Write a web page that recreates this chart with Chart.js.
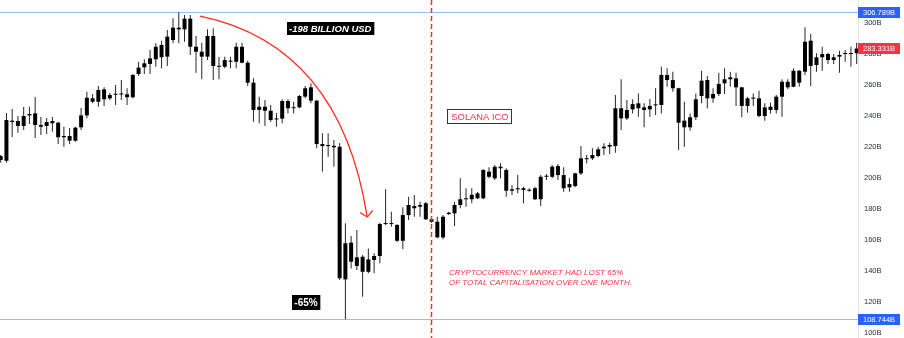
<!DOCTYPE html>
<html>
<head>
<meta charset="utf-8">
<script src="https://cdn.jsdelivr.net/npm/chart.js@4.4.1/dist/chart.umd.min.js"></script>
<style>
  html, body { margin: 0; padding: 0; background: #fff; }
  #wrap { width: 904px; height: 338px; }
</style>
</head>
<body>
<div id="wrap"><canvas id="capChart" width="904" height="338"></canvas></div>
<script>
// Total crypto market cap, daily candles, billions USD
const opens = [
  214.0, 210.9, 236.8, 236.6, 233.4, 240.2, 241.5, 234.0, 233.4, 235.1,
  235.5, 226.9, 226.9, 223.9, 232.5, 240.2, 251.2, 249.0, 257.0, 251.2,
  253.5, 254.0, 253.8, 251.9, 266.9, 271.2, 273.4, 276.4, 285.6, 278.1,
  288.8, 295.7, 295.7, 302.6, 284.5, 281.3, 278.1, 291.4, 272.1, 271.6,
  275.5, 274.8, 284.5, 274.2, 261.3, 243.7, 245.8, 243.2, 237.6, 238.1,
  249.5, 244.8, 245.4, 252.3, 258.3, 249.7, 221.7, 221.1, 220.6, 220.0,
  134.4, 158.1, 148.6, 149.0, 139.3, 146.9, 149.5, 170.1, 170.6, 169.5,
  159.3, 175.9, 181.7, 181.3, 183.5, 173.2, 171.6, 161.5, 176.6, 177.0,
  182.4, 186.1, 186.1, 186.7, 186.7, 203.9, 199.6, 207.1, 205.0, 191.6,
  192.5, 193.2, 192.1, 193.2, 186.1, 200.6, 200.6, 207.5, 201.7, 193.8,
  194.6, 202.8, 211.9, 212.5, 214.0, 219.0, 220.0, 220.4, 244.8, 238.3,
  244.1, 248.0, 245.4, 244.1, 246.7, 246.9, 266.3, 263.0, 257.7, 236.8,
  232.5, 239.0, 252.7, 263.0, 251.2, 254.0, 260.9, 263.5, 264.1, 258.3,
  246.3, 251.0, 251.2, 239.8, 243.7, 243.7, 252.3, 261.9, 258.7, 269.0,
  268.4, 288.4, 272.7, 277.7, 279.8, 275.9, 278.1, 279.8, 279.8, 280.3
];
const highs = [
  214.6, 241.7, 244.3, 239.8, 245.6, 245.8, 252.1, 239.2, 238.5, 239.2,
  236.1, 232.9, 232.1, 232.9, 244.9, 255.5, 254.0, 259.2, 258.3, 254.6,
  259.8, 263.0, 257.7, 266.9, 274.8, 276.4, 282.4, 286.7, 288.4, 295.3,
  302.8, 306.789, 305.0, 305.0, 291.4, 287.1, 295.7, 296.4, 277.9, 278.1,
  278.1, 287.1, 287.1, 275.5, 264.1, 252.3, 250.1, 246.9, 241.7, 250.6,
  250.6, 249.0, 253.4, 259.2, 260.9, 250.1, 228.6, 228.6, 224.3, 222.4,
  170.6, 162.4, 166.2, 150.1, 154.4, 151.2, 171.0, 192.5, 178.1, 170.1,
  180.9, 187.7, 188.8, 184.5, 184.3, 174.8, 174.8, 175.9, 178.1, 184.5,
  199.6, 193.2, 193.2, 190.8, 205.4, 206.7, 208.2, 209.3, 206.1, 195.3,
  201.7, 194.2, 193.2, 194.2, 201.7, 202.4, 208.2, 208.8, 206.7, 199.6,
  203.2, 220.4, 214.6, 219.0, 220.0, 222.2, 222.6, 253.4, 263.6, 250.1,
  250.6, 254.4, 248.0, 250.8, 257.7, 271.6, 270.6, 268.4, 258.0, 249.0,
  241.5, 254.4, 269.0, 265.6, 257.7, 267.7, 270.6, 268.4, 267.7, 258.7,
  252.3, 254.4, 256.1, 248.0, 248.4, 253.4, 263.5, 263.5, 270.6, 269.5,
  297.0, 292.7, 280.3, 284.5, 280.6, 279.8, 281.9, 282.4, 284.5, 287.1
];
const lows = [
  209.7, 209.7, 226.3, 229.0, 230.8, 234.6, 225.6, 227.5, 228.2, 229.7,
  221.7, 220.0, 221.7, 223.2, 230.8, 238.3, 248.0, 245.8, 246.3, 250.1,
  246.9, 250.1, 246.9, 251.2, 265.6, 266.9, 266.9, 271.6, 270.6, 272.1,
  286.7, 286.7, 287.7, 279.2, 267.7, 263.5, 275.9, 263.0, 263.5, 270.6,
  270.6, 270.6, 273.8, 259.2, 236.1, 235.1, 233.4, 236.1, 232.9, 235.1,
  241.5, 241.5, 244.8, 251.2, 248.0, 219.0, 203.9, 213.5, 207.1, 134.0,
  108.744, 141.5, 140.4, 123.2, 138.3, 138.3, 144.8, 169.5, 168.4, 158.7,
  153.8, 172.7, 174.8, 174.8, 172.7, 171.0, 160.9, 160.3, 175.9, 168.8,
  180.3, 181.3, 183.5, 186.3, 186.1, 199.6, 198.5, 199.6, 187.7, 188.8,
  189.9, 183.5, 190.9, 185.6, 181.7, 198.5, 199.6, 198.5, 190.9, 190.9,
  193.8, 201.7, 209.3, 211.4, 213.2, 214.6, 215.3, 216.1, 230.8, 237.2,
  241.5, 239.4, 232.5, 239.4, 240.4, 241.5, 258.7, 255.5, 217.9, 220.0,
  230.3, 237.2, 248.0, 244.8, 248.4, 252.7, 254.0, 258.7, 246.3, 239.0,
  241.9, 246.3, 239.0, 236.8, 241.5, 241.5, 239.4, 257.0, 258.3, 258.7,
  266.3, 259.2, 268.4, 269.0, 273.4, 273.4, 267.7, 274.8, 271.6, 273.4
];
const closes = [
  211.4, 237.2, 235.9, 233.4, 239.8, 241.1, 234.0, 232.9, 235.9, 236.6,
  226.1, 226.1, 223.9, 232.3, 240.2, 251.6, 249.0, 256.6, 250.6, 253.4,
  254.0, 253.7, 251.9, 266.3, 271.0, 273.8, 277.0, 284.5, 277.7, 291.0,
  296.8, 296.8, 302.6, 284.5, 281.3, 278.1, 291.4, 272.1, 271.6, 275.9,
  274.8, 284.5, 274.2, 261.3, 243.7, 245.8, 243.2, 237.2, 238.1, 249.5,
  244.8, 245.4, 252.7, 257.7, 249.7, 221.7, 220.4, 220.4, 219.6, 135.1,
  157.7, 145.8, 143.0, 139.3, 147.3, 149.5, 170.1, 170.6, 170.1, 159.3,
  175.9, 182.4, 180.3, 182.4, 173.2, 171.6, 161.5, 174.8, 177.4, 182.4,
  186.1, 186.3, 189.0, 189.9, 205.0, 200.6, 207.1, 206.1, 191.6, 192.5,
  193.2, 192.1, 191.6, 186.1, 200.6, 201.1, 207.1, 201.7, 193.2, 195.9,
  202.8, 212.5, 212.5, 214.6, 218.3, 220.0, 221.1, 244.8, 238.3, 243.7,
  247.5, 244.8, 243.7, 246.3, 246.9, 266.3, 263.0, 257.7, 235.5, 232.5,
  239.0, 250.6, 262.6, 251.2, 254.0, 260.5, 263.5, 264.8, 258.3, 246.3,
  251.2, 251.6, 239.8, 245.4, 245.8, 252.3, 261.9, 258.3, 269.0, 261.3,
  287.7, 272.1, 277.7, 279.8, 275.9, 277.7, 279.2, 280.3, 280.3, 283.331
];
const priceTicks = [100, 120, 140, 160, 180, 200, 220, 240, 260, 280, 300];
const levelHigh = 306.789;
const levelLow = 108.744;
const lastClose = closes[closes.length - 1];
const icoIndex = 74.85;

const RED = '#f23645';
const BLUE = '#2962ff';
const FONT = "'Liberation Sans', Arial, sans-serif";
Chart.defaults.font.family = FONT;

const bodies = opens.map((o, i) => ({ x: i, y: [o, closes[i]] }));
const wicks = lows.map((l, i) => ({ x: i, y: [l, highs[i]] }));

function tag(ctx, cx, cy, text, font, fg, bg, border, padX, h) {
    ctx.font = font;
    const w = ctx.measureText(text).width + padX * 2;
    const left = Math.round(cx - w / 2), top = Math.round(cy - h / 2);
    ctx.fillStyle = bg;
    ctx.fillRect(left, top, w, h);
    if (border) {
        ctx.strokeStyle = border;
        ctx.lineWidth = 1;
        ctx.strokeRect(left + 0.5, top + 0.5, Math.round(w) - 1, h - 1);
    }
    ctx.fillStyle = fg;
    ctx.textAlign = 'center';
    ctx.textBaseline = 'middle';
    ctx.fillText(text, cx, cy + 0.5);
}

function priceTag(ctx, chart, value, color) {
    const y = chart.scales.y.getPixelForValue(value);
    const left = chart.chartArea.right;
    ctx.fillStyle = color;
    ctx.fillRect(left, Math.round(y - 5.5), 42, 11);
    ctx.fillStyle = '#fff';
    ctx.font = '7.5px ' + FONT;
    ctx.textAlign = 'left';
    ctx.textBaseline = 'middle';
    ctx.fillText(value.toFixed(3) + 'B', left + 5, y + 0.5);
}

const annotations = {
    id: 'annotations',
    beforeDatasetsDraw(chart) {
        const { ctx, chartArea: a, scales: { y } } = chart;
        ctx.save();
        // high / low levels
        ctx.strokeStyle = 'rgba(41, 98, 255, 0.45)';
        ctx.lineWidth = 1;
        [levelHigh, levelLow].forEach(v => {
            const py = Math.round(y.getPixelForValue(v)) + 0.5;
            ctx.beginPath();
            ctx.moveTo(a.left, py);
            ctx.lineTo(a.right, py);
            ctx.stroke();
        });
        ctx.restore();
    },
    afterDraw(chart) {
        const { ctx, chartArea: a, scales: { x, y } } = chart;
        const p = (i, v) => [x.getPixelForValue(i), y.getPixelForValue(v)];
        ctx.save();

        // ICO date
        const ix = Math.round(x.getPixelForValue(icoIndex)) + 0.5;
        ctx.strokeStyle = '#ff2d2d';
        ctx.lineWidth = 1.5;
        ctx.setLineDash([5, 3]);
        ctx.beginPath();
        ctx.moveTo(ix, a.top);
        ctx.lineTo(ix, a.bottom);
        ctx.stroke();
        ctx.setLineDash([]);

        // curved arrow over the crash
        const [x0, y0] = p(34.7, 304.3);
        const [x1, y1] = p(59.1, 285.6);
        const [x2, y2] = p(63.8, 174.6);
        ctx.strokeStyle = '#ff2a1f';
        ctx.lineWidth = 1.3;
        ctx.beginPath();
        ctx.moveTo(x0, y0);
        ctx.quadraticCurveTo(x1, y1, x2, y2);
        ctx.stroke();
        const ang = Math.atan2(y2 - y1, x2 - x1);
        ctx.beginPath();
        [-0.85, 0.85].forEach(d => {
            ctx.moveTo(x2, y2);
            ctx.lineTo(x2 - 8.5 * Math.cos(ang + d), y2 - 8.5 * Math.sin(ang + d));
        });
        ctx.stroke();

        let c = p(57.37, 296.0);
        tag(ctx, c[0], c[1], '-198 BILLION USD', 'italic bold 9.5px ' + FONT, '#fff', '#000', null, 2.5, 13);
        c = p(53.14, 119.5);
        tag(ctx, c[0], c[1], '-65%', 'bold 10px ' + FONT, '#fff', '#000', null, 2.5, 15);
        c = p(83.43, 239.4);
        tag(ctx, c[0], c[1], 'SOLANA ICO', '9.4px ' + FONT, RED, '#fff', '#333', 4, 15);

        const [tx, ty] = p(78.03, 138.5);
        ctx.fillStyle = RED;
        ctx.font = 'italic 8px ' + FONT;
        ctx.textAlign = 'left';
        ctx.textBaseline = 'middle';
        ctx.fillText('CRYPTOCURRENCY MARKET HAD LOST 65%', tx, ty);
        ctx.fillText('OF TOTAL CAPITALISATION OVER ONE MONTH.', tx, ty + 10);

        priceTag(ctx, chart, levelHigh, BLUE);
        priceTag(ctx, chart, lastClose, RED);
        priceTag(ctx, chart, levelLow, BLUE);
        ctx.restore();
    }
};

const capCtx = document.getElementById('capChart').getContext('2d');
const capChart = new Chart(capCtx, {
    type: 'bar',
    data: {
        datasets: [{
            label: 'Body',
            data: bodies,
            backgroundColor: '#000',
            maxBarThickness: 4,
            minBarLength: 1,
            grouped: false
        }, {
            label: 'Wick',
            data: wicks,
            backgroundColor: '#262626',
            maxBarThickness: 1,
            grouped: false
        }]
    },
    options: {
        responsive: false,
        animation: false,
        layout: { padding: 0 },
        scales: {
            x: {
                type: 'linear',
                display: false,
                bounds: 'data',
                offset: false,
                min: -0.12,
                max: 149.23
            },
            y: {
                position: 'right',
                bounds: 'data',
                min: 96.58,
                max: 314.65,
                afterFit(scale) {
                    scale.width = 46;
                    scale.paddingTop = 0;
                    scale.paddingBottom = 0;
                },
                afterBuildTicks(scale) { scale.ticks = priceTicks.map(v => ({ value: v })); },
                grid: { display: false, drawTicks: false },
                border: { display: true, color: '#e0e3eb' },
                ticks: {
                    autoSkip: false,
                    padding: 6,
                    color: '#2a2e39',
                    font: { size: 7.5 },
                    callback: v => v + 'B'
                }
            }
        },
        plugins: {
            legend: { display: false },
            tooltip: { enabled: false },
            title: { display: false }
        }
    },
    plugins: [annotations]
});
</script>
</body>
</html>
